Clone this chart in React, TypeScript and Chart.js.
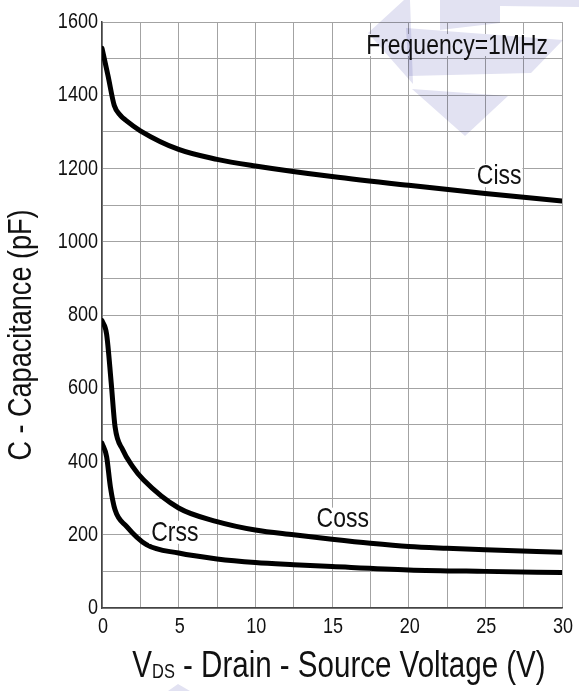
import { useEffect, useRef } from "react";
import { Chart, registerables } from "chart.js";

Chart.register(...registerables);

// Capacitance vs. drain-source voltage, f = 1 MHz
const vdsCiss = [0, 0.4, 0.8, 1.2, 1.6, 2.5, 5, 7.5, 10, 15, 20, 25, 30];
const ciss = [1528, 1452, 1372, 1345, 1330, 1303, 1252, 1225, 1207, 1178, 1154, 1132, 1111];

const vdsCoss = [0, 0.3, 0.6, 0.85, 1.35, 2, 2.7, 5, 7.5, 10, 12.5, 15, 17.5, 20, 22.5, 25, 30];
const coss = [785, 748, 615, 495, 432, 386, 350, 273, 236, 213, 200, 188, 177, 168, 163, 159, 152];

const vdsCrss = [0, 0.3, 0.55, 0.85, 1.6, 2.9, 5, 7.5, 10, 12.5, 15, 20, 25, 30];
const crss = [450, 413, 330, 268, 223, 173, 150, 134, 124, 118, 113, 104, 100, 97];

const xMax = 30;
const yMax = 1600;
const xLabelStep = 5;
const yLabelStep = 200;

// Curve name annotations (data coordinates of the text centre)
const curveLabels = [
  { text: "Ciss", x: 25.9, y: 1182 },
  { text: "Coss", x: 15.7, y: 244 },
  { text: "Crss", x: 4.75, y: 208 },
];
const noteText = "Frequency=1MHz";
const xTitleMain = "V";
const xTitleSub = "DS";
const xTitleRest = " - Drain - Source Voltage (V)";
const yTitle = "C - Capacitance (pF)";

const FONT = "'Liberation Sans', Arial, Helvetica, sans-serif";
const NARROW = 0.82; // horizontal squeeze for a condensed sans look
const INK = "#111111";

// Faint logo watermark, canvas pixel outline
const watermark: number[][][] = [
  [[368, 33], [404, 0], [410, 0], [413, 84]],
  [[440, 0], [500, 0], [500, 23], [440, 30]],
  [[500, 0], [579, 0], [579, 7], [500, 6]],
  [[406, 28], [563, 40], [531, 73], [409, 76]],
  [[412, 89], [508, 96], [465, 136]],
  [[178, 684], [168, 691], [190, 691]],
];

const toPoints = (xs: number[], ys: number[]) => xs.map((x, i) => ({ x, y: ys[i] }));

function textWidth(ctx: CanvasRenderingContext2D, text: string, size: number) {
  ctx.font = `${size}px ${FONT}`;
  return ctx.measureText(text).width * NARROW;
}

function narrowText(
  ctx: CanvasRenderingContext2D,
  text: string,
  x: number,
  y: number,
  size: number,
  align: CanvasTextAlign,
  baseline: CanvasTextBaseline,
) {
  ctx.save();
  ctx.translate(x, y);
  ctx.scale(NARROW, 1);
  ctx.font = `${size}px ${FONT}`;
  ctx.textAlign = align;
  ctx.textBaseline = baseline;
  ctx.fillStyle = INK;
  ctx.fillText(text, 0, 0);
  ctx.restore();
}

const textPlugin = {
  id: "textPlugin",
  afterDatasetsDraw(chart: any) {
    const { ctx, chartArea, scales } = chart;
    ctx.save();
    const size = 28;
    for (const l of curveLabels) {
      const px = scales.x.getPixelForValue(l.x);
      const py = scales.y.getPixelForValue(l.y);
      const w = textWidth(ctx, l.text, size);
      ctx.fillStyle = "#ffffff";
      ctx.fillRect(px - w / 2 - 2, py - 11, w + 3, 23);
      narrowText(ctx, l.text, px, py + 1, size, "center", "middle");
    }
    // frequency note in the top-right corner
    const w = textWidth(ctx, noteText, size);
    const nx = chartArea.right - 14;
    const ny = chartArea.top + 23;
    ctx.fillStyle = "#ffffff";
    ctx.fillRect(nx - w - 2, ny - 11, w + 4, 22);
    narrowText(ctx, noteText, nx, ny + 1, size, "right", "middle");
    ctx.restore();
  },
  afterDraw(chart: any) {
    const { ctx, chartArea, scales } = chart;

    // tick labels
    for (const t of scales.y.ticks) {
      if (t.value % yLabelStep !== 0) continue;
      narrowText(ctx, String(t.value), chartArea.left - 4, scales.y.getPixelForValue(t.value), 22, "right", "middle");
    }
    for (const t of scales.x.ticks) {
      if (t.value % xLabelStep !== 0) continue;
      narrowText(ctx, String(t.value), scales.x.getPixelForValue(t.value) + 1, chartArea.bottom + 19, 22, "center", "middle");
    }

    // x axis title with subscript
    const big = 36;
    const small = 20;
    const w1 = textWidth(ctx, xTitleMain, big);
    const w2 = textWidth(ctx, xTitleSub, small);
    const w3 = textWidth(ctx, xTitleRest, big);
    const cx = (chartArea.left + chartArea.right) / 2 + 7;
    const base = 677;
    let x = cx - (w1 + w2 + w3) / 2;
    narrowText(ctx, xTitleMain, x, base, big, "left", "alphabetic");
    x += w1;
    narrowText(ctx, xTitleSub, x, base + 1, small, "left", "alphabetic");
    x += w2;
    narrowText(ctx, xTitleRest, x, base, big, "left", "alphabetic");

    // y axis title
    ctx.save();
    ctx.translate(22, 335);
    ctx.rotate(-Math.PI / 2);
    narrowText(ctx, yTitle, 0, 0, 33, "center", "middle");
    ctx.restore();

    // watermark
    ctx.save();
    ctx.globalCompositeOperation = "multiply";
    ctx.fillStyle = "rgb(226,226,242)";
    for (const poly of watermark) {
      ctx.beginPath();
      poly.forEach(([px, py], i) => (i ? ctx.lineTo(px, py) : ctx.moveTo(px, py)));
      ctx.closePath();
      ctx.fill();
    }
    ctx.restore();
  },
};

const curve = (data: { x: number; y: number }[]) => ({
  data,
  borderColor: "#000000",
  borderWidth: 5,
  pointRadius: 0,
  fill: false,
  cubicInterpolationMode: "monotone" as const,
  borderCapStyle: "round" as const,
  borderJoinStyle: "round" as const,
});

export default function App() {
  const ref = useRef<HTMLCanvasElement>(null);

  useEffect(() => {
    if (!ref.current) return;
    const chart = new Chart(ref.current, {
      type: "line",
      data: {
        datasets: [
          curve(toPoints(vdsCiss, ciss)),
          curve(toPoints(vdsCoss, coss)),
          curve(toPoints(vdsCrss, crss)),
        ],
      },
      options: {
        responsive: false,
        animation: false,
        layout: { padding: { left: 0, right: 17, top: 22, bottom: 0 } },
        plugins: {
          legend: { display: false },
          tooltip: { enabled: false },
        },
        scales: {
          x: {
            type: "linear",
            min: 0,
            max: xMax,
            afterFit: (s: any) => {
              s.height = 83;
            },
            border: { color: "#444444", width: 1.5 },
            grid: { color: "#a3a3a3", lineWidth: 1, drawTicks: false },
            ticks: { stepSize: 2.5, display: false, autoSkip: false },
          },
          y: {
            type: "linear",
            min: 0,
            max: yMax,
            afterFit: (s: any) => {
              s.width = 102;
            },
            border: { color: "#444444", width: 1.5 },
            grid: { color: "#a3a3a3", lineWidth: 1, drawTicks: false },
            ticks: { stepSize: 100, display: false, autoSkip: false },
          },
        },
      },
      plugins: [textPlugin],
    });
    return () => chart.destroy();
  }, []);

  return (
    <div style={{ position: "fixed", left: 0, top: 0, width: 579, height: 691, background: "#ffffff" }}>
      <canvas ref={ref} width={579} height={691} />
    </div>
  );
}
